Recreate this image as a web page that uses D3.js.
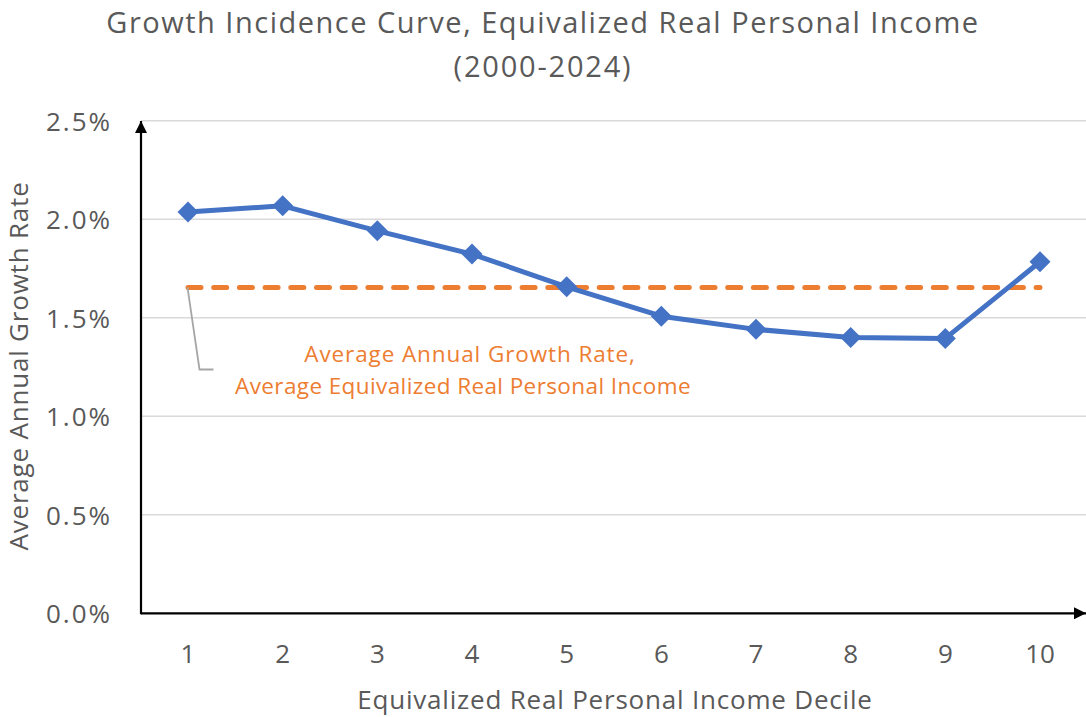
<!DOCTYPE html>
<html>
<head>
<meta charset="utf-8">
<script src="https://cdn.jsdelivr.net/npm/d3@7"></script>
<style>
  body { margin: 0; background: #fff; }
  text { font-family: "Open Sans", "Noto Sans", sans-serif; }
</style>
</head>
<body>
<svg width="1086" height="717"></svg>
<script>
// data
const deciles = [1, 2, 3, 4, 5, 6, 7, 8, 9, 10];
const growth = [2.037, 2.068, 1.941, 1.823, 1.657, 1.508, 1.441, 1.400, 1.395, 1.784];
const avgGrowth = 1.654;
const yTicks = [0, 0.5, 1.0, 1.5, 2.0, 2.5];

const svg = d3.select('svg');
const grey = '#595959';

const xScale = d3.scaleLinear().domain([1, 10]).range([188, 1040]);
const yScale = d3.scaleLinear().domain([0, 2.5]).range([613.3, 120.7]);

// title
svg.append('text').attr('x', 543).attr('y', 33).attr('text-anchor', 'middle')
  .attr('font-size', 29).attr('letter-spacing', 1.5).attr('fill', grey)
  .text('Growth Incidence Curve, Equivalized Real Personal Income');
svg.append('text').attr('x', 543).attr('y', 77).attr('text-anchor', 'middle')
  .attr('font-size', 29).attr('letter-spacing', 1.8).attr('fill', grey)
  .text('(2000-2024)');

// gridlines
svg.append('g').selectAll('line').data(yTicks.slice(1)).enter().append('line')
  .attr('x1', 141).attr('x2', 1086)
  .attr('y1', d => yScale(d)).attr('y2', d => yScale(d))
  .attr('stroke', '#d9d9d9').attr('stroke-width', 1.5);

// y tick labels
svg.append('g').selectAll('text').data(yTicks).enter().append('text')
  .attr('x', 112).attr('y', d => yScale(d) + 10)
  .attr('text-anchor', 'end').attr('font-size', 26).attr('letter-spacing', 2)
  .attr('fill', grey)
  .text(d => d.toFixed(1) + '%');

// x tick labels
svg.append('g').selectAll('text').data(deciles).enter().append('text')
  .attr('x', d => xScale(d)).attr('y', 663)
  .attr('text-anchor', 'middle').attr('font-size', 26).attr('fill', grey)
  .text(d => d);

// axis titles
svg.append('text').attr('x', 615).attr('y', 709).attr('text-anchor', 'middle')
  .attr('font-size', 26).attr('letter-spacing', 0.8).attr('fill', grey)
  .text('Equivalized Real Personal Income Decile');
svg.append('text').attr('transform', 'translate(28,366) rotate(-90)')
  .attr('text-anchor', 'middle').attr('font-size', 26).attr('letter-spacing', 0.8)
  .attr('fill', grey)
  .text('Average Annual Growth Rate');

// axes with arrows
svg.append('defs').append('marker').attr('id', 'arrow').attr('viewBox', '0 0 10 10')
  .attr('refX', 10).attr('refY', 5).attr('markerWidth', 12).attr('markerHeight', 12)
  .attr('markerUnits', 'userSpaceOnUse').attr('orient', 'auto')
  .append('path').attr('d', 'M0,0 L10,5 L0,10 Z').attr('fill', '#000');

svg.append('line').attr('x1', 141).attr('x2', 1086)
  .attr('y1', yScale(0)).attr('y2', yScale(0))
  .attr('stroke', '#000').attr('stroke-width', 2.2).attr('marker-end', 'url(#arrow)');
svg.append('line').attr('x1', 141).attr('x2', 141)
  .attr('y1', yScale(0) + 1).attr('y2', 121)
  .attr('stroke', '#000').attr('stroke-width', 2.2).attr('marker-end', 'url(#arrow)');

// average dashed line
svg.append('line')
  .attr('x1', xScale(1)).attr('x2', xScale(10))
  .attr('y1', yScale(avgGrowth)).attr('y2', yScale(avgGrowth))
  .attr('stroke', '#ed7d31').attr('stroke-width', 5)
  .attr('stroke-dasharray', '13,12.7').attr('stroke-linecap', 'round');

// leader line + label
svg.append('polyline')
  .attr('points', `${xScale(1) - 0.5},${yScale(avgGrowth)} 199.5,369.5 213.5,369.5`)
  .attr('fill', 'none').attr('stroke', '#a6a6a6').attr('stroke-width', 1.8);
const lab = svg.append('text').attr('text-anchor', 'middle')
  .attr('font-size', 22.5).attr('fill', '#ed7d31');
lab.append('tspan').attr('x', 470).attr('y', 362).attr('letter-spacing', 0.9)
  .text('Average Annual Growth Rate,');
lab.append('tspan').attr('x', 463).attr('y', 394).attr('letter-spacing', 0.4)
  .text('Average Equivalized Real Personal Income');

// series line
const line = d3.line().x((d, i) => xScale(deciles[i])).y(d => yScale(d));
svg.append('path').datum(growth)
  .attr('d', line).attr('fill', 'none')
  .attr('stroke', '#4472c4').attr('stroke-width', 5).attr('stroke-linejoin', 'round');

// diamond markers
svg.append('g').selectAll('path').data(growth).enter().append('path')
  .attr('transform', (d, i) => `translate(${xScale(deciles[i])},${yScale(d)})`)
  .attr('d', 'M0,-10.5 L10.5,0 L0,10.5 L-10.5,0 Z')
  .attr('fill', '#4472c4');
</script>
</body>
</html>
